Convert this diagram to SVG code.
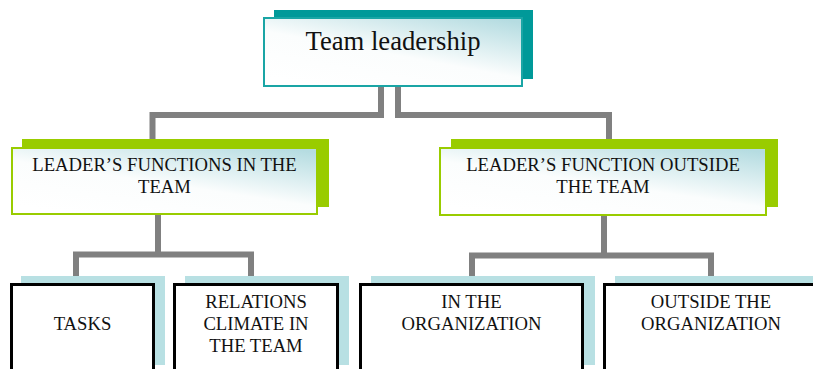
<svg xmlns="http://www.w3.org/2000/svg" width="813" height="369" viewBox="0 0 813 369">
<defs>
<linearGradient id="fill" x1="0.2" y1="1" x2="0.9" y2="0">
<stop offset="0" stop-color="#ffffff"/>
<stop offset="0.45" stop-color="#fbfdfd"/>
<stop offset="1" stop-color="#b5dce1"/>
</linearGradient>
<style>
.conn{fill:none;stroke:#808080;stroke-width:6}
.t{font-family:"Liberation Serif","Times New Roman",serif;fill:#111;text-anchor:middle}
.s{font-size:18.67px}
.shadowTeal{fill:#009999}
.shadowGreen{fill:#99cc00}
.shadowBlue{fill:#b8e0e3}
.mainTop{fill:url(#fill);stroke:#1aa5a5;stroke-width:2}
.mainMid{fill:url(#fill);stroke:#99cc00;stroke-width:2}
.mainBot{fill:#ffffff;stroke:#000000;stroke-width:3}
</style>
</defs>
<rect width="813" height="369" fill="#ffffff"/>
<g id="connectors">
<path class="conn" d="M381 87 V115 H152.5 V147"/>
<path class="conn" d="M398 87 V115 H609 V147"/>
<path class="conn" d="M158 215 V254.5"/>
<path class="conn" d="M76 276 V254.5 H251 V276"/>
<path class="conn" d="M604 216 V255.5"/>
<path class="conn" d="M472 276 V255.5 H711 V276"/>
</g>
<g id="team-leadership">
<rect class="shadowTeal" x="274" y="10" width="259" height="69"/>
<rect class="mainTop" x="264" y="18" width="258" height="68"/>
<text class="t" x="393" y="50" font-size="26.67">Team leadership</text>
</g>
<g id="functions-in-team">
<rect class="shadowGreen" x="22" y="139" width="307" height="68"/>
<rect class="mainMid" x="12" y="148" width="305" height="66"/>
<text class="t s" x="164.5" y="171">LEADER’S FUNCTIONS IN THE</text>
<text class="t s" x="164.5" y="193">TEAM</text>
</g>
<g id="function-outside-team">
<rect class="shadowGreen" x="451" y="139" width="327" height="68"/>
<rect class="mainMid" x="440" y="148" width="326" height="67"/>
<text class="t s" x="603" y="171">LEADER’S FUNCTION OUTSIDE</text>
<text class="t s" x="603" y="193">THE TEAM</text>
</g>
<g id="tasks">
<rect class="shadowBlue" x="21" y="276" width="144" height="89"/>
<rect class="mainBot" x="11.5" y="284.5" width="142" height="100"/>
<text class="t s" x="82.5" y="330">TASKS</text>
</g>
<g id="relations">
<rect class="shadowBlue" x="185" y="276" width="164" height="89"/>
<rect class="mainBot" x="174.5" y="284.5" width="163" height="100"/>
<text class="t s" x="256" y="308">RELATIONS</text>
<text class="t s" x="256" y="330">CLIMATE IN</text>
<text class="t s" x="256" y="352">THE TEAM</text>
</g>
<g id="in-organization">
<rect class="shadowBlue" x="371" y="276" width="224" height="89"/>
<rect class="mainBot" x="360.5" y="284.5" width="222" height="100"/>
<text class="t s" x="471.5" y="308">IN THE</text>
<text class="t s" x="471.5" y="330">ORGANIZATION</text>
</g>
<g id="outside-organization">
<rect class="shadowBlue" x="615" y="276" width="215" height="89"/>
<rect class="mainBot" x="604.5" y="284.5" width="213" height="100"/>
<text class="t s" x="711" y="308">OUTSIDE THE</text>
<text class="t s" x="711" y="330">ORGANIZATION</text>
</g>
</svg>
